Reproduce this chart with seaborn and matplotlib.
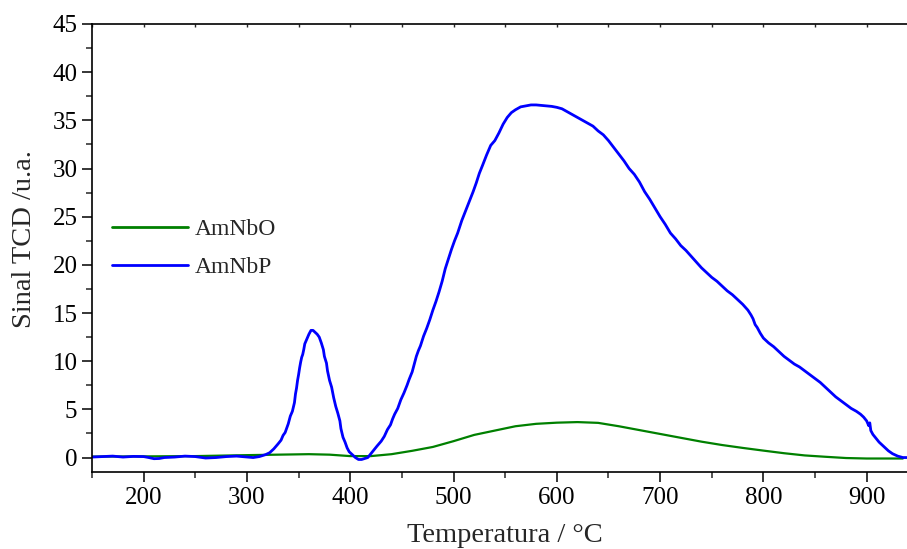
import numpy as np
import pandas as pd
import matplotlib
matplotlib.use("Agg")
import matplotlib.pyplot as plt
import seaborn as sns
from matplotlib.ticker import MultipleLocator

# ---- data ----
temp_p = [150,160,170,180,190,200,205,210,215,220,230,240,250,260,270,280,290,300,306,312,318,322,326,330,333,335,337,340,342,344,346,347,348,349,350,351,352,353,354,355,356,358,360,362,364,366,368,370,372,374,375,377,378,380,382,384,386,388,390,391,393,395,397,399,402,405,408,411,414,417,420,423,426,430,433,436,439,441,443,446,449,452,455,457,460,462,464,466,468,471,474,477,480,483,486,489,492,495,498,501,504,508,512,515,519,522,525,528,532,536,540,544,548,552,556,560,565,570,575,580,585,590,595,600,605,610,615,620,625,630,635,640,645,650,655,660,665,670,675,680,685,690,695,700,705,710,715,720,725,730,735,740,745,750,755,760,765,770,775,780,785,788,790,792,794,797,800,805,810,815,820,825,830,835,840,845,850,855,860,865,870,875,880,885,890,894,897,900,902,903,904,906,909,912,915,918,921,925,930,935,940]
sig_p = [0.05,0.1,0.15,0.05,0.12,0.1,0.0,-0.12,-0.1,0.0,0.05,0.15,0.1,-0.05,0.0,0.1,0.15,0.05,0.0,0.1,0.3,0.5,0.9,1.4,1.8,2.3,2.6,3.5,4.3,4.8,5.7,6.6,7.2,8.0,8.6,9.3,9.9,10.4,10.7,11.2,11.8,12.3,12.8,13.2,13.2,13.0,12.8,12.5,11.9,11.2,10.5,9.8,9.0,8.0,7.3,6.2,5.3,4.6,3.8,3.0,2.1,1.6,1.0,0.6,0.3,0.0,-0.2,-0.2,-0.1,0.0,0.4,0.8,1.2,1.7,2.2,2.9,3.4,4.0,4.5,5.1,6.0,6.7,7.5,8.1,8.9,9.7,10.5,11.1,11.6,12.6,13.4,14.3,15.3,16.2,17.2,18.3,19.6,20.6,21.6,22.5,23.3,24.6,25.7,26.5,27.6,28.5,29.5,30.3,31.4,32.4,32.9,33.7,34.6,35.3,35.8,36.1,36.4,36.5,36.6,36.6,36.55,36.5,36.45,36.35,36.2,35.9,35.6,35.3,35.0,34.7,34.4,33.9,33.5,32.9,32.2,31.5,30.8,30.0,29.4,28.6,27.6,26.8,25.9,25.0,24.2,23.3,22.7,22.0,21.5,20.9,20.3,19.7,19.2,18.7,18.3,17.8,17.3,16.9,16.4,15.9,15.3,14.8,14.4,13.8,13.5,12.9,12.4,11.9,11.5,11.0,10.5,10.1,9.7,9.4,9.0,8.6,8.2,7.8,7.3,6.8,6.3,5.9,5.5,5.1,4.8,4.5,4.2,3.8,3.3,3.6,2.8,2.4,2.0,1.6,1.3,1.0,0.7,0.4,0.15,0.0,0.0]

temp_o = [150,200,250,300,330,360,380,400,420,440,460,480,500,520,540,560,580,600,620,640,660,680,700,720,740,760,780,800,820,840,860,880,900,920,935]
sig_o = [0.1,0.12,0.15,0.25,0.3,0.35,0.3,0.15,0.15,0.35,0.7,1.1,1.7,2.35,2.8,3.25,3.5,3.62,3.68,3.6,3.25,2.85,2.45,2.05,1.65,1.3,1.0,0.72,0.45,0.22,0.08,-0.05,-0.1,-0.1,-0.1]

series_names = ["AmNbO", "AmNbP"]
colors = {"AmNbO": "#008000", "AmNbP": "#0000FF"}

df = pd.concat([
    pd.DataFrame({"T": temp_o, "S": sig_o, "amostra": "AmNbO"}),
    pd.DataFrame({"T": temp_p, "S": sig_p, "amostra": "AmNbP"}),
], ignore_index=True)

sns.set_style("ticks")
plt.rcParams["font.family"] = ["Liberation Serif", "DejaVu Serif"]

fig = plt.figure(figsize=(9.07, 5.49), dpi=100)
ax = fig.add_axes([92/907, 77/549, 816/907, 448/549])

sns.lineplot(data=df, x="T", y="S", hue="amostra", hue_order=series_names,
             palette=colors, estimator=None, sort=False, ax=ax, linewidth=2)
for line, lw in zip(ax.get_lines(), [1.6, 2.0]):
    line.set_linewidth(lw)

ax.set_xlim(150, 940)
ax.set_ylim(-1.5, 45)
ax.xaxis.set_major_locator(MultipleLocator(100))
ax.xaxis.set_minor_locator(MultipleLocator(50))
ax.yaxis.set_major_locator(MultipleLocator(5))
ax.yaxis.set_minor_locator(MultipleLocator(2.5))
ax.tick_params(axis="both", which="major", direction="out", length=7, width=1.1,
               labelsize=18, colors="black")
ax.tick_params(axis="both", which="minor", direction="out", length=4, width=1.1)
ax.tick_params(top=False, right=False, which="both")
for s in ["left", "bottom", "top"]:
    ax.spines[s].set_linewidth(1.2)
    ax.spines[s].set_color("black")
ax.spines["right"].set_visible(False)

# tiny top ticks
ax2 = ax.secondary_xaxis("top")
ax2.xaxis.set_major_locator(MultipleLocator(50))
ax2.tick_params(direction="in", length=2, width=1, labelsize=0, labeltop=False)
ax2.spines["top"].set_visible(False)

ax.set_xlabel("Temperatura / °C", fontsize=20.5)
ax.set_ylabel("Sinal TCD /u.a.", fontsize=20.5)
ax.xaxis.set_label_coords(0.506, -0.113)
ax.yaxis.set_label_coords(-0.068, 0.52)

leg = ax.legend(loc="upper left", bbox_to_anchor=(0.0245, 0.565), frameon=False,
                fontsize=17, handlelength=3.2, handletextpad=0.3,
                labelspacing=0.7, borderpad=0, borderaxespad=0)
for h in leg.get_lines():
    h.set_linewidth(2)

fig.savefig("out.png", dpi=100)
